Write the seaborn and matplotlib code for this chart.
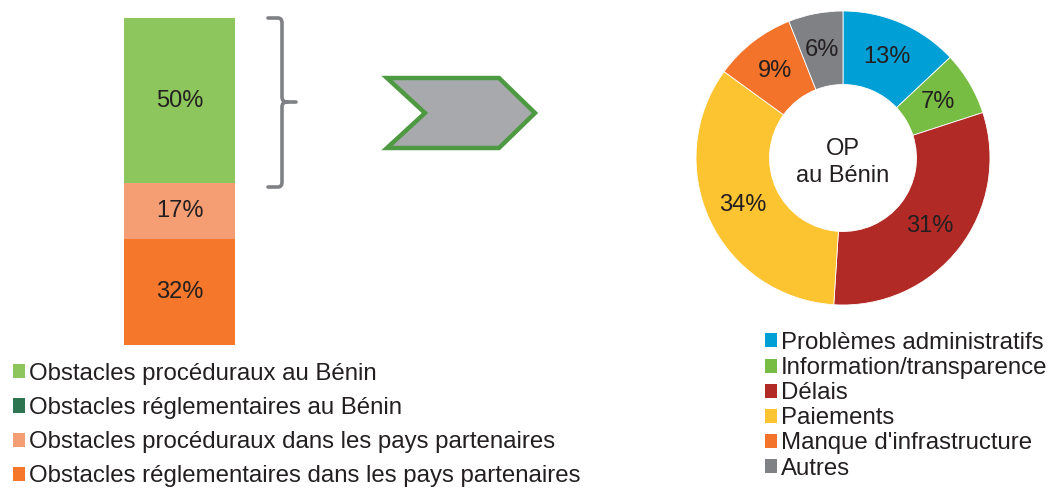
import numpy as np
import pandas as pd
import matplotlib.pyplot as plt
import seaborn as sns
from matplotlib.patches import Patch, Polygon, PathPatch
from matplotlib.path import Path

sns.set_theme(style="white")
plt.rcParams['font.family'] = ['Liberation Sans', 'DejaVu Sans']

# Barre empilée (du haut vers le bas dans la légende)
bar_labels = ["Obstacles procéduraux au Bénin",
              "Obstacles réglementaires au Bénin",
              "Obstacles procéduraux dans les pays partenaires",
              "Obstacles réglementaires dans les pays partenaires"]
bar_values = [50, 0, 17, 32]
bar_colors = ["#8DC65D", "#2D7451", "#F59E73", "#F4772B"]

# Anneau
pie_labels = ["Problèmes administratifs", "Information/transparence", "Délais",
              "Paiements", "Manque d'infrastructure", "Autres"]
pie_values = [13, 7, 31, 34, 9, 6]
pie_colors = ["#00A0D6", "#77BC43", "#B22A25", "#FDC431", "#F27329", "#808184"]
pie_center = "OP\nau Bénin"

W, H = 1050, 488
TXT = "#231F20"
FS = 17
FS_LEG = 17.3

fig = plt.figure(figsize=(W / 100, H / 100), dpi=100)

# --- éléments décoratifs (accolade + flèche) en coordonnées pixel
deco = fig.add_axes([0, 0, 1, 1])
deco.set_xlim(0, W)
deco.set_ylim(H, 0)
deco.axis("off")

verts = [(268, 18), (278, 18), (282, 18), (282, 23), (282, 97), (282, 102), (287, 102), (296, 102),
         (287, 102), (282, 102), (282, 107), (282, 182), (282, 187), (278, 187), (268, 187)]
codes = [Path.MOVETO, Path.LINETO, Path.CURVE3, Path.CURVE3, Path.LINETO, Path.CURVE3, Path.CURVE3, Path.LINETO,
         Path.MOVETO, Path.CURVE3, Path.CURVE3, Path.LINETO, Path.CURVE3, Path.CURVE3, Path.LINETO]
deco.add_patch(PathPatch(Path(verts, codes), fill=False, edgecolor="#808184", lw=2.6, capstyle="round"))

chevron = [(387, 78), (499, 78), (535, 113), (499, 148), (387, 148), (425, 113)]
deco.add_patch(Polygon(chevron, closed=True, facecolor="#A7A9AC", edgecolor="#4E9A42", lw=3.2, joinstyle="miter"))

# --- barre empilée
ax = fig.add_axes([124 / W, (H - 345) / H, 111 / W, 327 / H])
stack = list(zip(bar_labels, bar_values, bar_colors))[::-1]   # du bas vers le haut
tops = np.cumsum([v for _, v, _ in stack])
for (lab, val, col), top in list(zip(stack, tops))[::-1]:
    sns.barplot(x=["barre"], y=[top], color=col, width=1, saturation=1, linewidth=0, ax=ax)
for (lab, val, col), top in zip(stack, tops):
    if val > 0:
        ax.text(0, top - val / 2, f"{val}%", ha="center", va="center", fontsize=FS, color=TXT)
ax.set_xlim(-0.5, 0.5)
ax.set_ylim(0, tops[-1])
ax.axis("off")

# --- anneau
R = 147
axp = fig.add_axes([(843 - R) / W, (H - 158 - R) / H, 2 * R / W, 2 * R / H])
wedges, _, autotexts = axp.pie(pie_values, colors=pie_colors, startangle=90, counterclock=False,
                               autopct="%d%%", pctdistance=0.75,
                               wedgeprops=dict(width=0.5, edgecolor="white", linewidth=0.6),
                               textprops=dict(fontsize=FS, color=TXT))
axp.text(0, -0.03, pie_center, ha="center", va="center", fontsize=FS, color=TXT, linespacing=1.3)
axp.set_xlim(-1, 1)
axp.set_ylim(-1, 1)

# --- légendes
h_bar = [Patch(facecolor=c, edgecolor="none") for c in bar_colors]
fig.legend(h_bar, bar_labels, loc="upper left", bbox_to_anchor=(13 / W, 1 - 363 / H),
           frameon=False, fontsize=FS_LEG, handlelength=0.52, handleheight=0.52, handletextpad=0.15,
           labelspacing=0.5, borderpad=0, borderaxespad=0, labelcolor=TXT)

h_pie = [Patch(facecolor=c, edgecolor="none") for c in pie_colors]
fig.legend(h_pie, pie_labels, loc="upper left", bbox_to_anchor=(765 / W, 1 - 332 / H),
           frameon=False, fontsize=FS_LEG, handlelength=0.52, handleheight=0.52, handletextpad=0.15,
           labelspacing=0.13, borderpad=0, borderaxespad=0, labelcolor=TXT)

fig.savefig("out.png", dpi=100)
